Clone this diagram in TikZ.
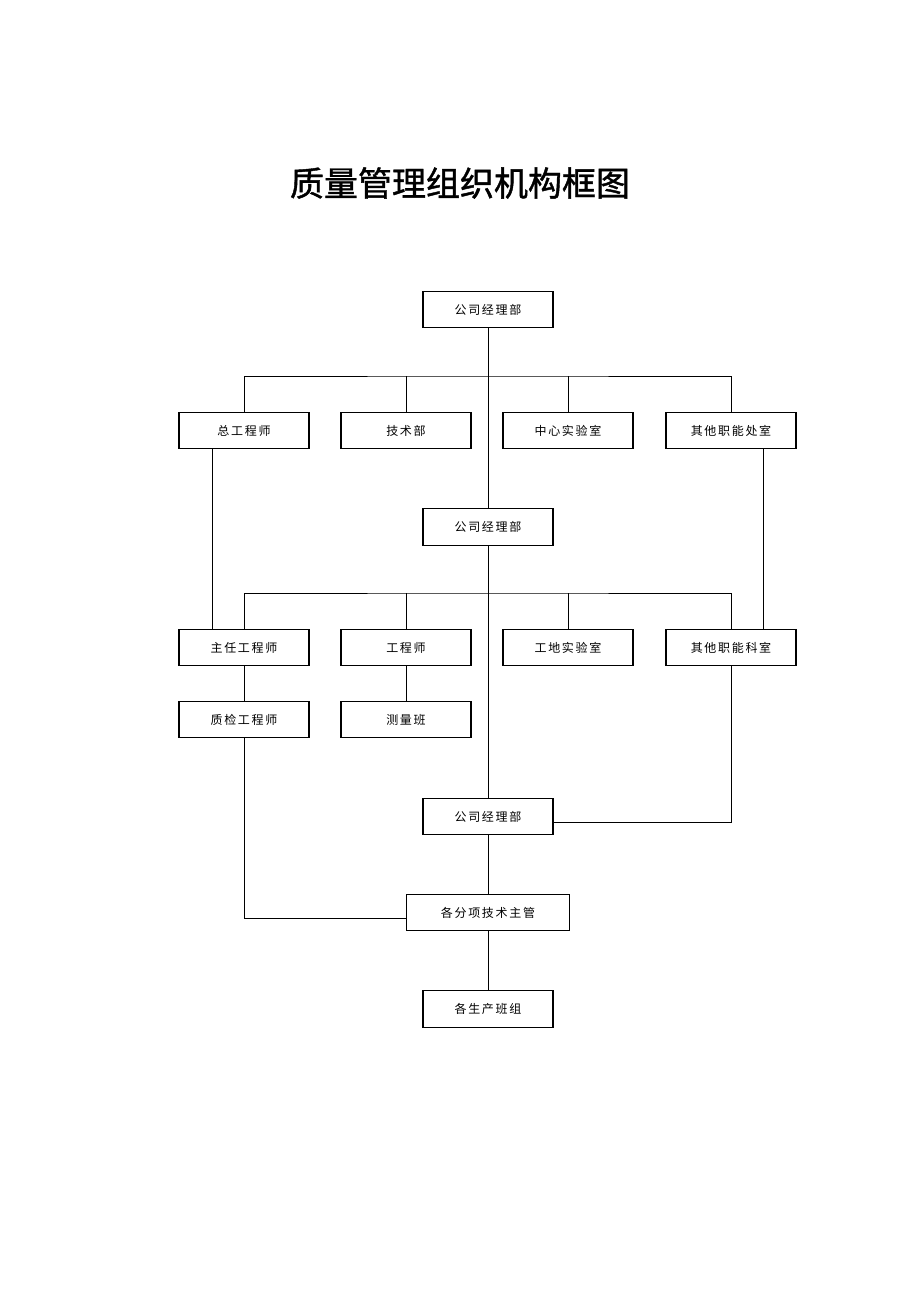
\documentclass[tikz,border=0pt]{standalone}
\usepackage{fontspec}
\newfontfamily\cjk[LetterSpace=14]{Noto Sans CJK SC}
\newfontfamily\cjktitle[FakeBold=1.2]{Noto Sans CJK SC}
\tikzset{every picture/.style={line width=0.75pt}}
\tikzset{
  orgbox/.style={draw, line width=0.8pt, minimum width=97.5pt, minimum height=27.5pt, inner sep=0pt, font=\cjk\fontsize{9pt}{9pt}\selectfont},
  widebox/.style={orgbox, minimum width=122pt}
}

\begin{document}
\begin{tikzpicture}[x=0.75pt,y=0.75pt,yscale=-1,xscale=1]
\useasboundingbox (0,0) rectangle (920,1302);

% Title
\node (title) at (460,183) {\cjktitle\fontsize{25.5pt}{26pt}\selectfont 质量管理组织机构框图};

%Shape: Rectangle, top level
\node [orgbox] (gsa) at (488,309.5) {公司经理部};
\node [orgbox] (zgcs) at (244,430.5) {总工程师};
\node [orgbox] (jsb) at (406,430.5) {技术部};
\node [orgbox] (zxsys) at (568,430.5) {中心实验室};
\node [orgbox] (qtcs) at (731,430.5) {其他职能处室};

%Shape: Rectangle, second level
\node [orgbox] (gsb) at (488,527) {公司经理部};
\node [orgbox] (zrgcs) at (244,647.5) {主任工程师};
\node [orgbox] (gcs) at (406,647.5) {工程师};
\node [orgbox] (gdsys) at (568,647.5) {工地实验室};
\node [orgbox] (qtks) at (731,647.5) {其他职能科室};
\node [orgbox] (zjgcs) at (244,719.5) {质检工程师};
\node [orgbox] (clb) at (406,719.5) {测量班};

%Shape: Rectangle, bottom
\node [orgbox] (gsc) at (488,816.5) {公司经理部};
\node [widebox] (fxzg) at (488,912.5) {各分项技术主管};
\node [orgbox] (scbz) at (488,1009) {各生产班组};

% buses
\coordinate (busa) at (488,376);
\coordinate (busb) at (488,593);

%Straight Lines
\draw (gsa.south) -- (gsb.north);
\draw (zgcs.north) |- (busa) -| (qtcs.north);
\draw (jsb.north) -- (jsb.north |- busa);
\draw (zxsys.north) -- (zxsys.north |- busa);

\draw (gsb.south) -- (gsc.north);
\draw (zrgcs.north) |- (busb) -| (qtks.north);
\draw (gcs.north) -- (gcs.north |- busb);
\draw (gdsys.north) -- (gdsys.north |- busb);

\draw ([xshift=-24pt]zgcs.south) -- ([xshift=-24pt]zrgcs.north);
\draw ([xshift=24.5pt]qtcs.south) -- ([xshift=24.5pt]qtks.north);

\draw (zrgcs.south) -- (zjgcs.north);
\draw (gcs.south) -- (clb.north);

\draw (qtks.south) |- (gsc.-5);
\draw (zjgcs.south) |- (fxzg.184);
\draw (gsc.south) -- (fxzg.north);
\draw (fxzg.south) -- (scbz.north);

\end{tikzpicture}
\end{document}
